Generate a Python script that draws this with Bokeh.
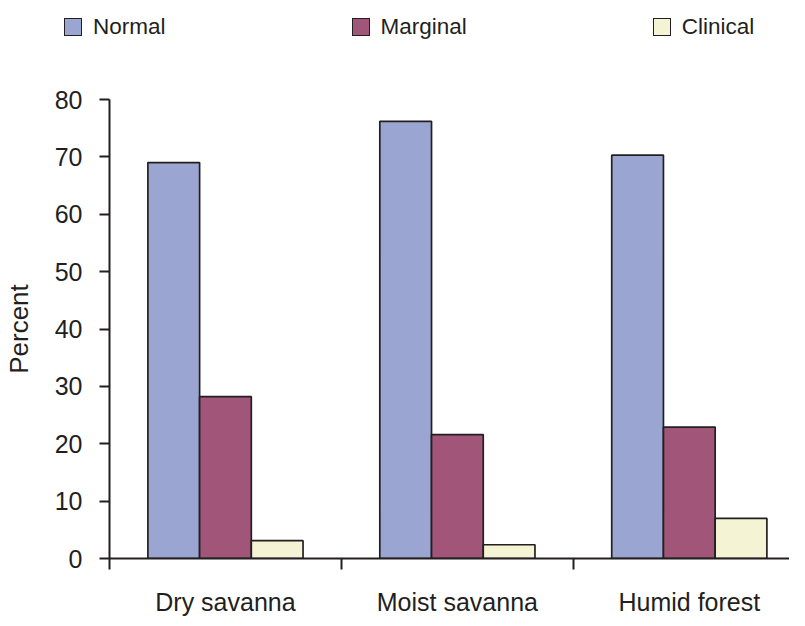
from bokeh.plotting import figure
from bokeh.layouts import column
from bokeh.models import ColumnDataSource, Range1d, FixedTicker, Div
from bokeh.transform import dodge
from bokeh.embed import file_html
from bokeh.resources import INLINE

categories = ["Dry savanna", "Moist savanna", "Humid forest"]
series_names = ["Normal", "Marginal", "Clinical"]
normal = [69.0, 76.2, 70.3]
marginal = [28.2, 21.6, 22.9]
clinical = [3.1, 2.4, 7.0]
y_ticks = [0, 10, 20, 30, 40, 50, 60, 70, 80]

colors = ["#9aa5d2", "#a15579", "#f4f3d4"]
edge = "#231f20"
FONT = "Liberation Sans"

centers = [i + 0.5 for i in range(len(categories))]
src = ColumnDataSource(dict(x=centers, normal=normal, marginal=marginal, clinical=clinical))

# ---- main chart ----
p = figure(width=789, height=573, output_backend="svg", toolbar_location=None,
           x_range=Range1d(0, 2.932), y_range=Range1d(0, 80),
           min_border_left=103, min_border_top=54, min_border_bottom=60, min_border_right=0)
p.outline_line_color = None
p.xgrid.visible = False
p.ygrid.visible = False

bw = 0.223
series_cols = ["normal", "marginal", "clinical"]
offsets = [-bw, 0.0, bw]
for col, off, c in zip(series_cols, offsets, colors):
    p.vbar(x=dodge("x", off, range=p.x_range), top=col, width=bw, source=src,
           fill_color=c, line_color=edge, line_width=1.7)

# Y axis
ya = p.yaxis[0]
ya.ticker = FixedTicker(ticks=y_ticks, minor_ticks=[])
ya.axis_label = "Percent"
ya.axis_label_text_font = FONT
ya.axis_label_text_font_size = "26px"
ya.axis_label_text_font_style = "normal"
ya.axis_label_text_color = edge
ya.axis_label_standoff = 18
ya.major_label_text_font = FONT
ya.major_label_text_font_size = "25px"
ya.major_label_text_color = edge
ya.major_label_standoff = 17
ya.major_tick_out = 10
ya.major_tick_in = 0
ya.axis_line_width = 2
ya.axis_line_color = edge
ya.major_tick_line_width = 2
ya.major_tick_line_color = edge

# X axis: labels at category centres, ticks at category boundaries
xa = p.xaxis[0]
xa.ticker = FixedTicker(ticks=centers, minor_ticks=[0, 1, 2, 3])
xa.major_label_overrides = {c: lab for c, lab in zip(centers, categories)}
xa.major_label_text_font = FONT
xa.major_label_text_font_size = "25px"
xa.major_label_text_color = edge
xa.major_label_standoff = 18
xa.major_tick_out = 0
xa.major_tick_in = 0
xa.minor_tick_out = 11
xa.minor_tick_in = 0
xa.minor_tick_line_width = 2
xa.minor_tick_line_color = edge
xa.axis_line_width = 2
xa.axis_line_color = edge

# ---- legend strip (real text + colour swatches) ----
items_html = "".join(
    f'<span style="display:inline-flex;align-items:center;">'
    f'<span style="display:inline-block;box-sizing:content-box;width:16px;height:16px;'
    f'background:{c};border:1.7px solid {edge};"></span>'
    f'<span style="margin-left:11px;">{name}</span></span>'
    for name, c in zip(series_names, colors))
legend_div = Div(
    text=(f'<div style="display:flex;align-items:center;gap:186px;padding-left:64px;'
          f'padding-top:11px;white-space:nowrap;font-family:\'{FONT}\';font-size:22.5px;'
          f'color:{edge};">{items_html}</div>'),
    width=789, height=45, margin=0)

layout = column(legend_div, p, spacing=0)
open("out.html", "w").write(file_html(layout, INLINE))
